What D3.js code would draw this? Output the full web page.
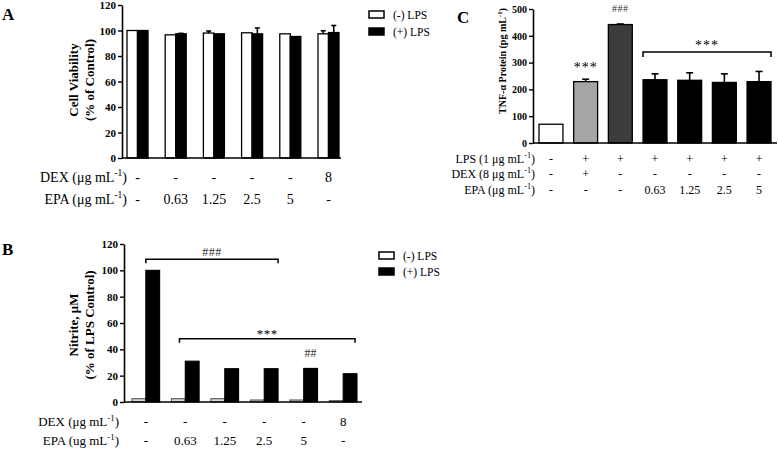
<!DOCTYPE html>
<html><head><meta charset="utf-8">
<script src="https://cdn.jsdelivr.net/npm/d3@7"></script>
<style>
body{margin:0;background:#fff;}
svg{display:block;font-family:"Liberation Serif","Times New Roman",serif;}
</style></head><body>
<svg id="chart" width="778" height="450"></svg>
<script>
// ---------------- DATA ----------------
const seriesNames = ["(-) LPS", "(+) LPS"];
const yTicksAB = [0, 20, 40, 60, 80, 100, 120];
const yTicksC = [0, 100, 200, 300, 400, 500];

// Panel A: cell viability
const dexA = ["-", "-", "-", "-", "-", "8"];
const epaA = ["-", "0.63", "1.25", "2.5", "5", "-"];
const viabilityNeg = [100, 96.6, 98, 98.2, 97.4, 97.4];
const viabilityNegErr = [0, 0, 1.6, 0, 0, 2.4];
const viabilityPos = [100, 97.4, 97.4, 97.4, 95.3, 98.4];
const viabilityPosErr = [0, 0.4, 0, 4.6, 0, 5.5];

// Panel B: nitrite
const dexB = ["-", "-", "-", "-", "-", "8"];
const epaB = ["-", "0.63", "1.25", "2.5", "5", "-"];
const nitriteNeg = [2.5, 2.5, 2.5, 1.5, 1.5, 1];
const nitritePos = [100, 31, 25.3, 25.3, 25.5, 21.5];

// Panel C: TNF-alpha
const lpsC = ["-", "+", "+", "+", "+", "+", "+"];
const dexC = ["-", "+", "-", "-", "-", "-", "-"];
const epaC = ["-", "-", "-", "0.63", "1.25", "2.5", "5"];
const tnfAlpha = [70, 229, 442, 236, 234, 226, 229];
const tnfAlphaErr = [0, 9, 2, 22, 28, 32, 38];

// ---------------- STYLE ----------------
const seriesFill = ["#ffffff", "#000000"];
const barFillC = ["#ffffff", "#a6a6a6", "#3c3c3c", "#000000", "#000000", "#000000", "#000000"];

const svg = d3.select("#chart");

function styleAxis(g, fs) {
  g.select(".domain").attr("stroke", "#000").attr("stroke-width", 1.6);
  g.selectAll(".tick line").attr("stroke", "#000").attr("stroke-width", 1.4);
  g.selectAll(".tick text").attr("fill", "#000").attr("font-weight", "bold")
    .attr("font-size", fs).attr("font-family", '"Liberation Serif",serif');
}

function unitText(parent, x, y, pre, sup, post, size, opts = {}) {
  const t = parent.append("text").attr("x", x).attr("y", y)
    .attr("font-size", size).attr("fill", "#000")
    .attr("text-anchor", opts.anchor || "end")
    .attr("font-weight", opts.weight || "normal");
  if (opts.transform) t.attr("transform", opts.transform);
  t.append("tspan").text(pre);
  t.append("tspan").attr("dy", -size * 0.4).attr("font-size", size * 0.68).text(sup);
  t.append("tspan").attr("dy", size * 0.4).text(post);
  return t;
}

function errBar(g, cx, y0, y1, capW) {
  g.append("line").attr("x1", cx).attr("x2", cx).attr("y1", y0).attr("y2", y1)
    .attr("stroke", "#000").attr("stroke-width", 1.6);
  g.append("line").attr("x1", cx - capW / 2).attr("x2", cx + capW / 2).attr("y1", y1).attr("y2", y1)
    .attr("stroke", "#000").attr("stroke-width", 1.6);
}

function bracket(g, x1, x2, y, drop) {
  g.append("path").attr("d", `M${x1},${y + drop}V${y}H${x2}V${y + drop}`)
    .attr("fill", "none").attr("stroke", "#000").attr("stroke-width", 1.5);
}

// ---------------- PANEL A ----------------
(function () {
  const g = svg.append("g");
  const x = d3.scaleBand().domain(d3.range(viabilityNeg.length)).range([127, 339]).paddingInner(0.45);
  const xi = d3.scaleBand().domain([0, 1]).range([0, x.bandwidth()]);
  const y = d3.scaleLinear().domain([0, 120]).range([158, 5]);
  const axisX = 122;

  g.append("text").attr("x", 2).attr("y", 20).attr("font-size", 17).attr("font-weight", "bold").text("A");

  const vals = [viabilityNeg, viabilityPos];
  const errs = [viabilityNegErr, viabilityPosErr];
  [0, 1].forEach(s => {
    g.append("g").selectAll("rect").data(vals[s]).join("rect")
      .attr("x", (d, i) => x(i) + xi(s)).attr("width", xi.bandwidth())
      .attr("y", d => y(d)).attr("height", d => y(0) - y(d))
      .attr("fill", seriesFill[s]).attr("stroke", "#000").attr("stroke-width", 1.3);
    vals[s].forEach((v, i) => {
      if (errs[s][i] > 0) errBar(g, x(i) + xi(s) + xi.bandwidth() / 2, y(v), y(v + errs[s][i]), 5);
    });
  });

  const ax = g.append("g").attr("transform", `translate(${axisX},0)`)
    .call(d3.axisLeft(y).tickValues(yTicksAB).tickSize(4).tickSizeOuter(0).tickPadding(2));
  styleAxis(ax, 11);
  g.append("line").attr("x1", axisX).attr("x2", 341).attr("y1", y(0)).attr("y2", y(0))
    .attr("stroke", "#000").attr("stroke-width", 1.6);

  g.append("text").attr("transform", "translate(78,80) rotate(-90)").attr("text-anchor", "middle")
    .attr("font-size", 13).attr("font-weight", "bold").text("Cell Viability");
  g.append("text").attr("transform", "translate(94,80) rotate(-90)").attr("text-anchor", "middle")
    .attr("font-size", 13).attr("font-weight", "bold").text("(% of Control)");

  unitText(g, 127, 182, "DEX (\u03bcg mL", "-1", ")", 14);
  unitText(g, 127, 204, "EPA (\u03bcg mL", "-1", ")", 14);
  g.append("g").selectAll("text").data(dexA).join("text")
    .attr("x", (d, i) => x(i) + x.bandwidth() / 2).attr("y", 182).attr("text-anchor", "middle")
    .attr("font-size", 14).text(d => d);
  g.append("g").selectAll("text").data(epaA).join("text")
    .attr("x", (d, i) => x(i) + x.bandwidth() / 2).attr("y", 204).attr("text-anchor", "middle")
    .attr("font-size", 14).text(d => d);

  seriesNames.forEach((n, s) => {
    g.append("rect").attr("x", 369).attr("y", 11 + s * 17).attr("width", 15).attr("height", 7)
      .attr("fill", seriesFill[s]).attr("stroke", "#000").attr("stroke-width", 1.5);
    g.append("text").attr("x", 393).attr("y", 18.5 + s * 17).attr("font-size", 11.5).text(n);
  });
})();

// ---------------- PANEL B ----------------
(function () {
  const g = svg.append("g");
  const x = d3.scaleBand().domain(d3.range(nitritePos.length)).range([132, 357]).paddingInner(0.3);
  const xi = d3.scaleBand().domain([0, 1]).range([0, x.bandwidth()]);
  const y = d3.scaleLinear().domain([0, 120]).range([402, 244]);
  const axisX = 124;

  g.append("text").attr("x", 2).attr("y", 255).attr("font-size", 17).attr("font-weight", "bold").text("B");

  const vals = [nitriteNeg, nitritePos];
  [0, 1].forEach(s => {
    g.append("g").selectAll("rect").data(vals[s]).join("rect")
      .attr("x", (d, i) => x(i) + xi(s)).attr("width", xi.bandwidth())
      .attr("y", d => y(d)).attr("height", d => y(0) - y(d))
      .attr("fill", s === 0 ? "#d8d8d8" : "#000").attr("stroke", s === 0 ? "#555" : "#000")
      .attr("stroke-width", 1.1);
  });

  const ax = g.append("g").attr("transform", `translate(${axisX},0)`)
    .call(d3.axisLeft(y).tickValues(yTicksAB).tickSize(4).tickSizeOuter(0).tickPadding(2));
  styleAxis(ax, 11);
  g.append("line").attr("x1", axisX).attr("x2", 362).attr("y1", y(0)).attr("y2", y(0))
    .attr("stroke", "#000").attr("stroke-width", 1.6);

  // significance brackets
  bracket(g, x(0) + x.bandwidth() / 2, x(3) + x.bandwidth(), y(108.5), 4);
  g.append("text").attr("x", (x(0) + x.bandwidth() / 2 + x(3) + x.bandwidth()) / 2).attr("y", 255.5)
    .attr("text-anchor", "middle").attr("font-size", 12).attr("letter-spacing", 0.5).attr("fill", "#333").text("###");
  bracket(g, x(1) + 8, x(5) + x.bandwidth() - 2, y(48), 4);
  g.append("text").attr("x", (x(1) + 8 + x(5) + x.bandwidth() - 2) / 2).attr("y", 338)
    .attr("text-anchor", "middle").attr("font-size", 13).attr("letter-spacing", 0.5).text("***");
  g.append("text").attr("x", x(4) + xi(1) + xi.bandwidth() / 2).attr("y", 357)
    .attr("text-anchor", "middle").attr("font-size", 12).attr("fill", "#333").text("##");

  g.append("text").attr("transform", "translate(78,325) rotate(-90)").attr("text-anchor", "middle")
    .attr("font-size", 13).attr("font-weight", "bold").text("Nitrite,  \u03bcM");
  g.append("text").attr("transform", "translate(94,325) rotate(-90)").attr("text-anchor", "middle")
    .attr("font-size", 13).attr("font-weight", "bold").text("(% of LPS Control)");

  unitText(g, 119, 426, "DEX (\u03bcg mL", "-1", ")", 13);
  unitText(g, 119, 445, "EPA (ug mL", "-1", ")", 13);
  g.append("g").selectAll("text").data(dexB).join("text")
    .attr("x", (d, i) => x(i) + x.bandwidth() / 2).attr("y", 426).attr("text-anchor", "middle")
    .attr("font-size", 13).text(d => d);
  g.append("g").selectAll("text").data(epaB).join("text")
    .attr("x", (d, i) => x(i) + x.bandwidth() / 2).attr("y", 445).attr("text-anchor", "middle")
    .attr("font-size", 13).text(d => d);

  seriesNames.forEach((n, s) => {
    g.append("rect").attr("x", 379).attr("y", 252 + s * 16).attr("width", 15).attr("height", 7)
      .attr("fill", seriesFill[s]).attr("stroke", "#000").attr("stroke-width", 1.5);
    g.append("text").attr("x", 403).attr("y", 259.5 + s * 16).attr("font-size", 11.5).text(n);
  });
})();

// ---------------- PANEL C ----------------
(function () {
  const g = svg.append("g");
  const x = d3.scaleBand().domain(d3.range(tnfAlpha.length)).range([539, 771]).paddingInner(0.31);
  const y = d3.scaleLinear().domain([0, 500]).range([143, 9]);
  const axisX = 533;

  g.append("text").attr("x", 457).attr("y", 23).attr("font-size", 17).attr("font-weight", "bold").text("C");

  g.append("g").selectAll("rect").data(tnfAlpha).join("rect")
    .attr("x", (d, i) => x(i)).attr("width", x.bandwidth())
    .attr("y", d => y(d)).attr("height", d => y(0) - y(d))
    .attr("fill", (d, i) => barFillC[i]).attr("stroke", "#000").attr("stroke-width", 1.3);
  tnfAlpha.forEach((v, i) => {
    if (tnfAlphaErr[i] > 0) errBar(g, x(i) + x.bandwidth() / 2, y(v), y(v + tnfAlphaErr[i]), 7);
  });

  const ax = g.append("g").attr("transform", `translate(${axisX},0)`)
    .call(d3.axisLeft(y).tickValues(yTicksC).tickSize(4).tickSizeOuter(0).tickPadding(2));
  styleAxis(ax, 10);
  g.append("line").attr("x1", axisX).attr("x2", 777).attr("y1", y(0)).attr("y2", y(0))
    .attr("stroke", "#000").attr("stroke-width", 1.6);

  // annotations
  const cx = i => x(i) + x.bandwidth() / 2;
  g.append("text").attr("x", cx(1)).attr("y", 72).attr("text-anchor", "middle")
    .attr("font-size", 14).attr("letter-spacing", 1).text("***");
  g.append("text").attr("x", cx(2)).attr("y", 12).attr("text-anchor", "middle")
    .attr("font-size", 10).attr("letter-spacing", 0.5).attr("fill", "#333").text("###");
  bracket(g, x(3), x(6) + x.bandwidth(), y(340), 5);
  g.append("text").attr("x", (x(3) + x(6) + x.bandwidth()) / 2).attr("y", 50).attr("text-anchor", "middle")
    .attr("font-size", 14).attr("letter-spacing", 1).text("***");

  unitText(g, 0, 0, "TNF-\u03b1 Protein (pg mL", "-1", ")", 10,
    { anchor: "middle", weight: "bold", transform: "translate(506,61) rotate(-90)" });

  const rowsY = [163, 178, 194];
  unitText(g, 535, rowsY[0], "LPS (1 \u03bcg mL", "-1", ")", 12);
  unitText(g, 535, rowsY[1], "DEX (8 \u03bcg mL", "-1", ")", 12);
  unitText(g, 535, rowsY[2], "EPA (\u03bcg mL", "-1", ")", 12);
  [lpsC, dexC, epaC].forEach((row, r) => {
    g.append("g").selectAll("text").data(row).join("text")
      .attr("x", (d, i) => cx(i)).attr("y", rowsY[r]).attr("text-anchor", "middle")
      .attr("font-size", 12).text(d => d);
  });
})();
</script>
</body></html>
